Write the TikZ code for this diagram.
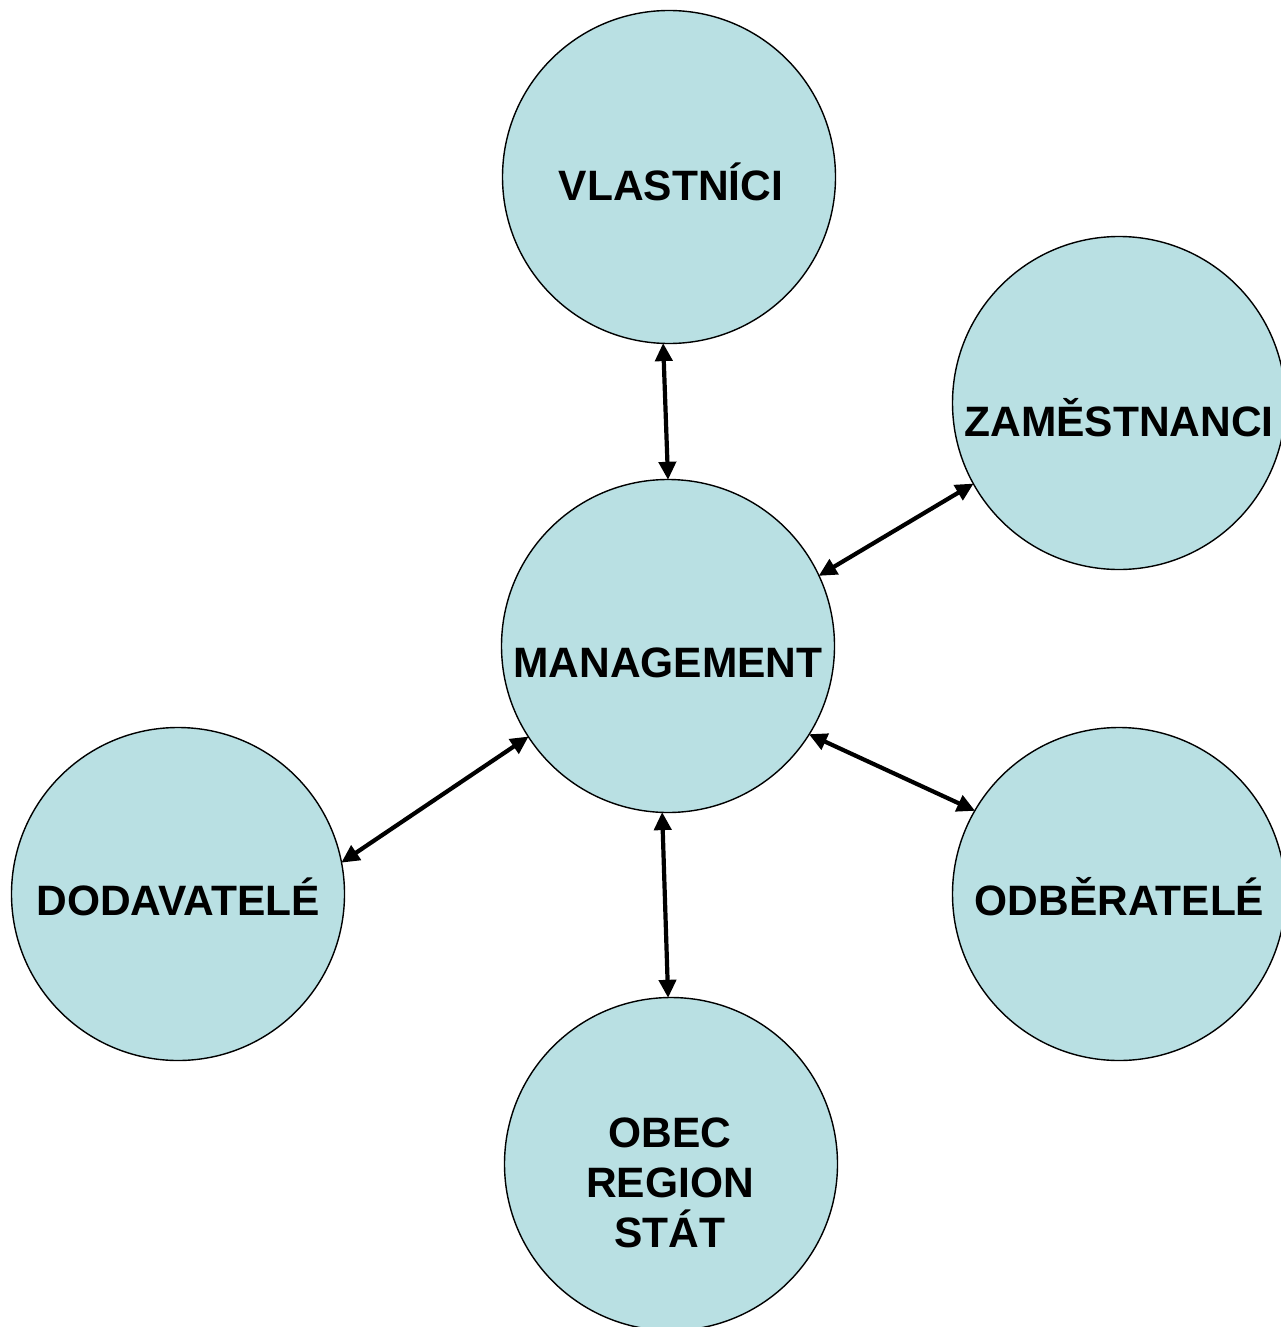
\documentclass[tikz,border=0pt]{standalone}
\usepackage{fontspec}
\setmainfont{Liberation Sans}
\usetikzlibrary{arrows.meta}
\definecolor{circfill}{RGB}{185,224,227}
\tikzset{
  party/.style={circle, draw=black, line width=1.4pt, fill=circfill, minimum size=333pt, inner sep=0pt},
  lbl/.style={anchor=base, font=\bfseries\fontsize{42.5}{50}\selectfont, inner sep=0pt, align=center},
  link/.style={line width=4.2pt, {Triangle[length=18pt,width=17pt]}-{Triangle[length=18pt,width=17pt]}, shorten <=-1pt, shorten >=-1pt}
}
\begin{document}
\begin{tikzpicture}[x=1pt,y=-1pt]
\useasboundingbox (0,0) rectangle (1281,1327);
\node[party] (v) at (669,177) {};
\node[party] (z) at (1119,403) {};
\node[party] (m) at (668,646) {};
\node[party] (d) at (178,894) {};
\node[party] (o) at (1119,894) {};
\node[party] (s) at (671,1164) {};
\node[lbl] (tv) at (671,200) {VLASTNÍCI};
\node[lbl] (tz) at (1119,436) {ZAMĚSTNANCI};
\node[lbl] (tm) at (668,677) {MANAGEMENT};
\node[lbl] (td) at (178,915) {DODAVATELÉ};
\node[lbl] (to) at (1119.5,915) {ODBĚRATELÉ};
\node[lbl] (ts) at (670,1247) {OBEC\\REGION\\STÁT};
\draw[link] (v.268.3) -- (m.90.3);
\draw[link] (z.209.7) -- (m.25.8);
\draw[link] (o.150.4) -- (m.-32);
\draw[link] (d.11.9) -- (m.213.2);
\draw[link] (m.268.3) -- (s.91.4);
\end{tikzpicture}
\end{document}
